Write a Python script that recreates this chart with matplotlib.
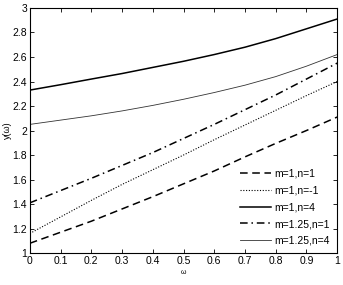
import matplotlib
matplotlib.use("Agg")
import matplotlib.pyplot as plt

omega = [0.0, 0.1, 0.2, 0.3, 0.4, 0.5, 0.6, 0.7, 0.8, 0.9, 1.0]

y_m1_n1 = [1.08, 1.17, 1.26, 1.36, 1.46, 1.565, 1.67, 1.785, 1.895, 2.00, 2.11]
y_m1_nm1 = [1.16, 1.295, 1.43, 1.56, 1.68, 1.80, 1.925, 2.045, 2.165, 2.285, 2.40]
y_m1_n4 = [2.33, 2.374, 2.42, 2.465, 2.515, 2.565, 2.62, 2.68, 2.75, 2.83, 2.91]
y_m125_n1 = [1.41, 1.51, 1.61, 1.715, 1.82, 1.935, 2.05, 2.17, 2.29, 2.42, 2.55]
y_m125_n4 = [2.05, 2.085, 2.12, 2.16, 2.205, 2.255, 2.31, 2.37, 2.44, 2.525, 2.62]

labels = ["m=1,n=1", "m=1,n=-1", "m=1,n=4", "m=1.25,n=1", "m=1.25,n=4"]
xticks = [0, 0.1, 0.2, 0.3, 0.4, 0.5, 0.6, 0.7, 0.8, 0.9, 1]
yticks = [1, 1.2, 1.4, 1.6, 1.8, 2, 2.2, 2.4, 2.6, 2.8, 3]

plt.rcParams['font.family'] = ['Liberation Sans', 'DejaVu Sans']

fig = plt.figure(figsize=(3.43, 2.85), dpi=100)
ax = fig.add_axes([0.087, 0.112, 0.896, 0.86])

ax.plot(omega, y_m1_n1, color='black', lw=1.1, dashes=(5, 3), label=labels[0])
ax.plot(omega, y_m1_nm1, color='black', lw=0.8, dashes=(1, 1.5), label=labels[1])
ax.plot(omega, y_m1_n4, color='black', lw=1.1, linestyle='-', label=labels[2])
ax.plot(omega, y_m125_n1, color='black', lw=1.1, dashes=(5, 2.5, 1, 2.5), label=labels[3])
ax.plot(omega, y_m125_n4, color='#333333', lw=0.6, linestyle='-', label=labels[4])

ax.set_xlim(0, 1)
ax.set_ylim(1, 3)
ax.set_xticks(xticks)
ax.set_xticklabels([f"{t:g}" for t in xticks])
ax.set_yticks(yticks)
ax.set_yticklabels([f"{t:g}" for t in yticks])
ax.tick_params(direction='in', length=3, width=0.6, labelsize=7.5, top=True, right=True, pad=2)
for s in ax.spines.values():
    s.set_linewidth(0.8)

ax.set_xlabel("ω", fontsize=5, labelpad=2)
ax.set_ylabel("y(ω)", fontsize=6.5, labelpad=0)

leg = ax.legend(loc='lower right', frameon=False, fontsize=7.5, handlelength=3.0,
                handletextpad=0.3, labelspacing=0.65, borderaxespad=0.3)

fig.savefig("out.png", dpi=100)
